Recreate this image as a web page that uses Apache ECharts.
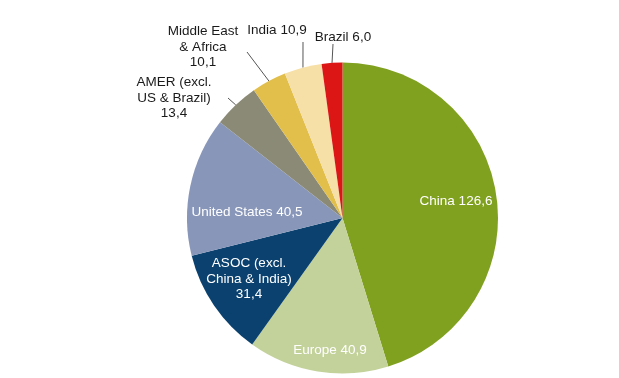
<!DOCTYPE html>
<html>
<head>
<meta charset="utf-8">
<script src="https://cdn.jsdelivr.net/npm/echarts@6/dist/echarts.min.js"></script>
<style>
  html, body { margin: 0; padding: 0; background: #fff; }
  #chart { width: 619px; height: 378px; }
</style>
</head>
<body>
<div id="chart"></div>
<script>
  // data
  var regions = ['China', 'Europe', 'ASOC (excl.\nChina & India)', 'United States',
    'AMER (excl.\nUS & Brazil)', 'Middle East\n& Africa', 'India', 'Brazil']
  var values = [126.6, 40.9, 31.4, 40.5, 13.4, 10.1, 10.9, 6.0]

  var colors = ['#80a01f', '#c3d29b', '#0a416f', '#8896b9', '#8b8a76', '#e2be4b', '#f6e0a8', '#dc1515']
  var inside = [true, true, true, true, false, false, false, false]
  // label centres and leader-line ends (page pixels)
  var labelAt = [[456, 201], [330, 350], [249, 279], [247, 212], [174, 98], [203, 47], [277, 30], [343, 37]]
  var lineEnd = [null, null, null, null, [228, 98], [247, 52], [303, 42], [333, 44]]

  var chart = echarts.init(document.getElementById('chart'))

  var fmt = function (v) {
    return v.toFixed(1).replace('.', ',')
  }

  var items = regions.map(function (name, i) {
    return {
      name: name,
      value: values[i],
      itemStyle: { color: colors[i] },
      label: {
        position: inside[i] ? 'inside' : 'outside',
        color: inside[i] ? '#ffffff' : '#1a1a1a'
      },
      labelLine: { show: !inside[i] }
    }
  })

  chart.setOption({
    animation: false,
    series: [
      {
        type: 'pie',
        center: [342.5, 218],
        radius: [0, 155.5],
        startAngle: 90,
        clockwise: true,
        avoidLabelOverlap: false,
        itemStyle: { borderWidth: 0 },
        label: {
          fontFamily: 'Liberation Sans, Arial, sans-serif',
          fontSize: 13.5,
          lineHeight: 15.5,
          align: 'center',
          formatter: function (p) {
            var sep = p.name.indexOf('\n') >= 0 ? '\n' : ' '
            return p.name + sep + fmt(p.value)
          }
        },
        labelLine: {
          length: 10,
          length2: 0,
          lineStyle: { color: '#555555', width: 1 }
        },
        emphasis: { disabled: true },
        labelLayout: function (params) {
          var i = params.dataIndex
          var out = {
            x: labelAt[i][0],
            y: labelAt[i][1],
            align: 'center',
            verticalAlign: 'middle'
          }
          if (lineEnd[i] && params.labelLinePoints) {
            out.labelLinePoints = [params.labelLinePoints[0], lineEnd[i]]
          }
          return out
        },
        data: items
      }
    ]
  })
</script>
</body>
</html>
